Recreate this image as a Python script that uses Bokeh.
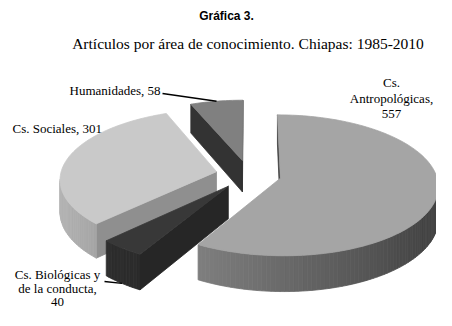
import numpy as np
from bokeh.plotting import figure
from bokeh.models import Range1d
from bokeh.embed import file_html
from bokeh.resources import INLINE
from bokeh.core.properties import value

# ---------------- data ----------------
title_text = "Gráfica 3."
subtitle_text = "Artículos por área de conocimiento. Chiapas: 1985-2010"
categories = ["Cs. Antropológicas", "Cs. Biológicas y de la conducta", "Cs. Sociales", "Humanidades"]
counts = [557, 40, 301, 58]

# ---------------- style / layout ----------------
top_grays = [165, 56, 201, 128]          # top-face gray per slice
cut_grays = [60, 38, 143, 51]             # radial cut-face gray per slice
label_breaks = [[1, 2], [3, 6], [], []]   # word indices where label lines break
label_pos = [(391, 82, "center"), (57, 274, "center"), (12, 128, "left"), (160, 90, "right")]
label_line_h = [15.5, 13.5, 15, 15]
leader_start = {3: (162, 93), 1: (104, 281)}

CX, CY = 248.0, 174.0      # pie centre (screen px)
R, KR = 156.0, 69.0        # horizontal radius, vertical (foreshortened) radius
P = 0.10                   # perspective strength
H = 32.0                   # thickness
E = 0.21                   # explode distance (fraction of radius)


def proj(u, v, z):
    s = 1.0 / (1.0 - P * v)
    return CX + R * u * s, CY + (KR * v + H * z) * s


def area(xs, ys):
    a = 0.0
    n = len(xs)
    for i in range(n):
        j = (i + 1) % n
        a += xs[i] * ys[j] - xs[j] * ys[i]
    return 0.5 * a


def gray(g):
    g = int(max(0, min(255, round(g))))
    return "#%02x%02x%02x" % (g, g, g)


total = float(sum(counts))
bounds = np.concatenate([[0.0], np.cumsum(counts) / total * 360.0])

slices = []
for i, n in enumerate(counts):
    a0, a1 = bounds[i], bounds[i + 1]
    mid = np.radians((a0 + a1) / 2)
    ou, ov = E * np.sin(mid), -E * np.cos(mid)
    slices.append((ov, i, a0, a1, ou))

face_xs, face_ys, face_cols = [], [], []
anchor = {}
for ov, i, a0, a1, ou in sorted(slices):
    nseg = max(3, int((a1 - a0) / 1.5) + 2)
    th = np.radians(np.linspace(a0, a1, nseg))
    ru = ou + np.sin(th)
    rv = ov - np.cos(th)
    tx, ty = proj(ru, rv, 0.0)
    bx, by = proj(ru, rv, 1.0)
    ax_t, ay_t = proj(ou, ov, 0.0)
    ax_b, ay_b = proj(ou, ov, 1.0)
    tg = top_grays[i]
    # cut face at a0
    xs = [tx[0], ax_t, ax_b, bx[0]]
    ys = [ty[0], ay_t, ay_b, by[0]]
    if area(xs, ys) > 0:
        face_xs.append(xs); face_ys.append(ys); face_cols.append(gray(cut_grays[i]))
    # cut face at a1
    xs = [ax_t, tx[-1], bx[-1], ax_b]
    ys = [ay_t, ty[-1], by[-1], ay_b]
    if area(xs, ys) > 0:
        face_xs.append(xs); face_ys.append(ys); face_cols.append(gray(cut_grays[i]))
    # outer rim wall
    for j in range(nseg - 1):
        xs = [tx[j + 1], tx[j], bx[j], bx[j + 1]]
        ys = [ty[j + 1], ty[j], by[j], by[j + 1]]
        if area(xs, ys) > 0:
            tm = 0.5 * (th[j] + th[j + 1])
            face_xs.append(xs); face_ys.append(ys)
            face_cols.append(gray(tg * (0.64 + 0.26 * (-np.sin(tm)))))
    # top face
    face_xs.append([ax_t] + list(tx)); face_ys.append([ay_t] + list(ty)); face_cols.append(gray(tg))
    # leader anchors
    m = np.radians((a0 + a1) / 2)
    if i == 3:
        anchor[i] = proj(ou + np.sin(m), ov - np.cos(m), 0.0)
    elif i == 1:
        anchor[i] = proj(ou + np.sin(m), ov - np.cos(m), 1.0)

p = figure(width=436, height=310, x_range=Range1d(0, 436), y_range=Range1d(310, 0),
           output_backend="svg", toolbar_location=None, min_border=0,
           x_axis_location=None, y_axis_location=None)
p.grid.visible = False
p.outline_line_color = None
p.background_fill_color = "white"
p.border_fill_color = "white"

p.patches(face_xs, face_ys, fill_color=face_cols, line_color=face_cols, line_width=0.8)

# leader lines
for i, (sx, sy) in leader_start.items():
    ex, ey = anchor[i]
    p.line([sx, ex], [sy, ey], line_color="black", line_width=1.4)

# labels
for i, (cat, n) in enumerate(zip(categories, counts)):
    words = f"{cat}, {n}".split(" ")
    cuts = [0] + label_breaks[i] + [len(words)]
    lines = [" ".join(words[cuts[k]:cuts[k + 1]]) for k in range(len(cuts) - 1)]
    x0, y0, al = label_pos[i]
    for k, ln in enumerate(lines):
        p.text(x=[x0], y=[y0 + k * label_line_h[i]], text=[ln], text_align=al, text_baseline="middle",
               text_font=value("Liberation Serif"), text_font_size=value("13px"), text_color="black")

p.text(x=[226], y=[15], text=[title_text], text_align="center", text_baseline="middle",
       text_font=value("Liberation Sans"), text_font_size=value("12px"), text_font_style="bold",
       text_color="black")
p.text(x=[247.5], y=[43], text=[subtitle_text], text_align="center", text_baseline="middle",
       text_font=value("Liberation Serif"), text_font_size=value("15.5px"), text_color="black")

open("out.html", "w").write(file_html(p, INLINE))
